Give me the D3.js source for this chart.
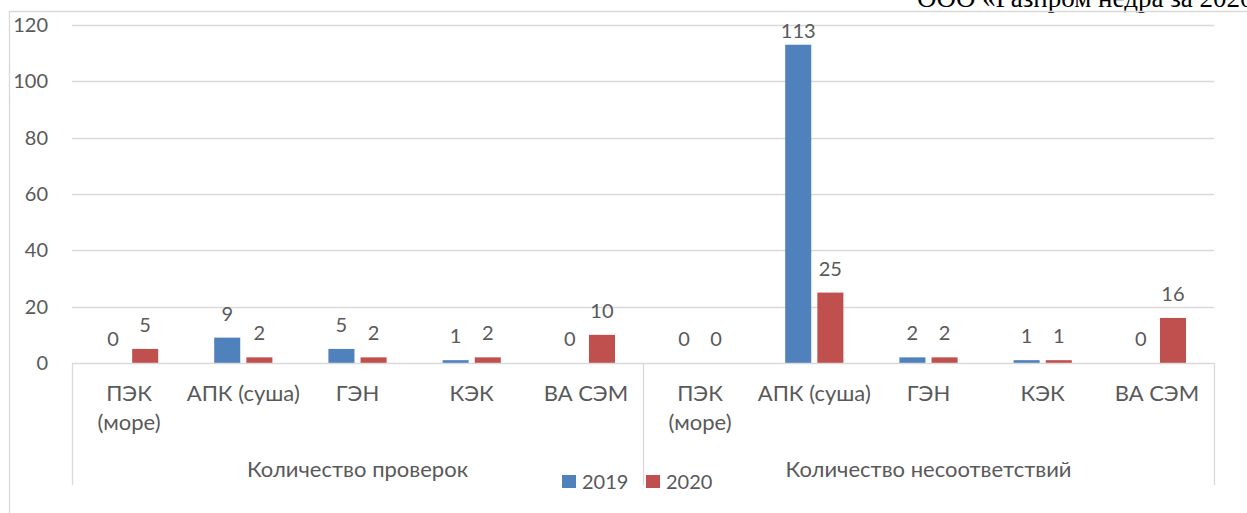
<!DOCTYPE html>
<html><head><meta charset="utf-8">
<script src="https://cdn.jsdelivr.net/npm/d3@7"></script>
<style>
html,body{margin:0;padding:0;background:#fff;overflow:hidden;}
svg{display:block;}
</style></head>
<body>
<svg id="chart" width="1247" height="513"></svg>
<script>
const groups = ["Количество проверок", "Количество несоответствий"];
const categories = ["ПЭК\n(море)", "АПК (суша)", "ГЭН", "КЭК", "ВА СЭМ"];
const series = ["2019", "2020"];
const values2019 = [0, 9, 5, 1, 0, 0, 113, 2, 1, 0];
const values2020 = [5, 2, 2, 2, 10, 0, 25, 2, 1, 16];
const yTicks = [0, 20, 40, 60, 80, 100, 120];
const caption = "ООО «Газпром недра за 2020";

const colors = {"2019": "#4F81BD", "2020": "#C0504D"};
const textColor = "#595959";
const gridColor = "#D9D9D9";
const font = "Lato, 'Open Sans', sans-serif";

const svg = d3.select("#chart");
const W = 1247, H = 513;
const pLeft = 72, pRight = 1214, pTop = 25, pBottom = 363;

const rows = [];
groups.forEach((g, gi) => categories.forEach((c, ci) => {
  const i = gi * categories.length + ci;
  rows.push({key: i, group: g, gi, label: c, v: {"2019": values2019[i], "2020": values2020[i]}});
}));

const x0 = d3.scaleBand().domain(rows.map(d => d.key)).range([pLeft, pRight]).padding(0);
const cw = x0.bandwidth();
const x1 = d3.scaleBand().domain(series).range([28, cw - 28]).paddingInner(0.19).paddingOuter(0);
const y = d3.scaleLinear().domain([0, 120]).range([pBottom, pTop]);

svg.append("text").attr("x", 917).attr("y", 7)
  .attr("font-family", "'Liberation Serif', 'Times New Roman', serif")
  .attr("font-size", 27).attr("fill", "#000").text(caption);

// chart outer border (top and left edges visible)
svg.append("path").attr("d", `M9.5,${H + 5}V11.5H${W + 5}`)
  .attr("fill", "none").attr("stroke", gridColor).attr("stroke-width", 1.3);

svg.append("g").selectAll("line").data(yTicks.filter(t => t > 0)).join("line")
  .attr("x1", pLeft).attr("x2", pRight)
  .attr("y1", d => Math.round(y(d)) + 0.5).attr("y2", d => Math.round(y(d)) + 0.5)
  .attr("stroke", gridColor).attr("stroke-width", 1.3);

const yAxis = d3.axisLeft(y).tickValues(yTicks).tickSize(0).tickPadding(24);
const ya = svg.append("g").attr("transform", `translate(${pLeft},0)`).call(yAxis);
ya.select(".domain").remove();
ya.selectAll("text").attr("font-family", font).attr("font-size", 20).attr("fill", textColor);

const cat = svg.append("g").selectAll("g").data(rows).join("g")
  .attr("transform", d => `translate(${x0(d.key)},0)`);
cat.selectAll("rect").data(d => series.map(s => ({s, v: d.v[s]}))).join("rect")
  .attr("x", d => x1(d.s)).attr("width", x1.bandwidth())
  .attr("y", d => y(d.v)).attr("height", d => pBottom - y(d.v))
  .attr("fill", d => colors[d.s]);

cat.selectAll("text.lbl").data(d => series.map(s => ({s, v: d.v[s]}))).join("text")
  .attr("class", "lbl")
  .attr("x", d => x1(d.s) + x1.bandwidth() / 2)
  .attr("y", d => Math.max(y(d.v) - 17, 38))
  .attr("text-anchor", "middle").attr("font-family", font).attr("font-size", 20)
  .attr("fill", textColor).text(d => d.v);

const frameBottom = 485;
svg.append("line").attr("x1", pLeft).attr("x2", pRight).attr("y1", pBottom + 0.5).attr("y2", pBottom + 0.5)
  .attr("stroke", gridColor).attr("stroke-width", 1.3);
const seps = [pLeft, x0(categories.length), pRight];
svg.append("g").selectAll("line").data(seps).join("line")
  .attr("x1", d => Math.round(d) + 0.5).attr("x2", d => Math.round(d) + 0.5)
  .attr("y1", pBottom).attr("y2", frameBottom)
  .attr("stroke", gridColor).attr("stroke-width", 1.3);

cat.append("text").attr("x", cw / 2).attr("text-anchor", "middle")
  .attr("font-family", font).attr("font-size", 22).attr("fill", textColor)
  .selectAll("tspan").data(d => d.label.split("\n")).join("tspan")
  .attr("x", cw / 2).attr("y", (d, i) => 401 + i * 29).text(d => d);

svg.append("g").selectAll("text").data(groups).join("text")
  .attr("x", (d, i) => (x0(i * categories.length) + x0((i + 1) * categories.length - 1) + cw) / 2)
  .attr("y", 477).attr("text-anchor", "middle")
  .attr("font-family", font).attr("font-size", 22).attr("fill", textColor).text(d => d);

const leg = svg.append("g").selectAll("g").data(series).join("g")
  .attr("transform", (d, i) => `translate(${562 + i * 84},0)`);
leg.append("rect").attr("x", 0).attr("y", 475).attr("width", 14).attr("height", 13).attr("fill", d => colors[d]);
leg.append("text").attr("x", 20).attr("y", 489).attr("font-family", font).attr("font-size", 20)
  .attr("fill", textColor).text(d => d);
</script>
</body></html>
